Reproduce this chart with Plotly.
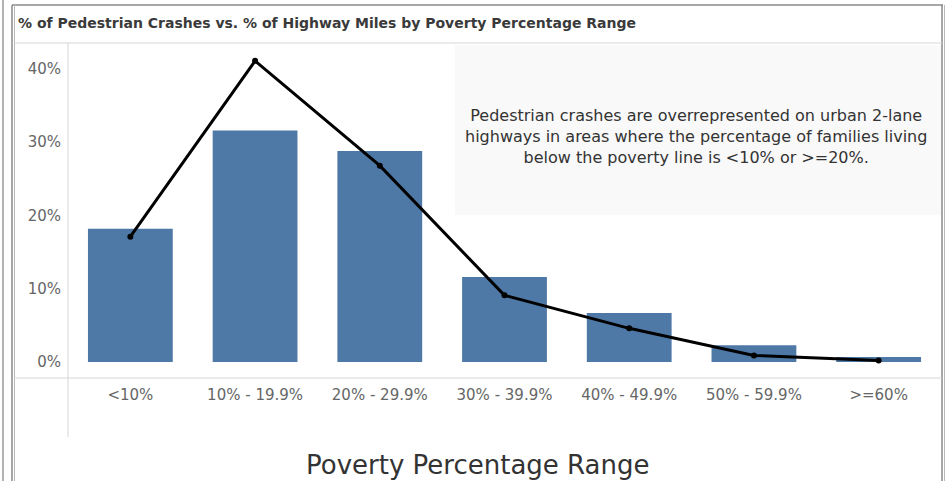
import plotly.graph_objects as go

# Poverty percentage bands
categories = ["<10%", "10% - 19.9%", "20% - 29.9%", "30% - 39.9%",
              "40% - 49.9%", "50% - 59.9%", ">=60%"]
# Share of highway miles (bars) and share of pedestrian crashes (line), in percent
highway_miles_pct = [18.2, 31.6, 28.8, 11.6, 6.7, 2.3, 0.7]
ped_crashes_pct = [17.1, 41.1, 26.8, 9.1, 4.6, 0.9, 0.2]
y_tick_vals = [0, 10, 20, 30, 40]
y_tick_text = ["0%", "10%", "20%", "30%", "40%"]

FONT = "DejaVu Sans"

fig = go.Figure()
fig.add_trace(go.Bar(
    x=categories, y=highway_miles_pct, width=0.68,
    marker=dict(color="#4e79a7", line=dict(width=0)),
    name="% of Highway Miles",
))
fig.add_trace(go.Scatter(
    x=categories, y=ped_crashes_pct, mode="lines+markers",
    line=dict(color="#000000", width=3),
    marker=dict(color="#000000", size=6),
    name="% of Pedestrian Crashes",
))

W, H = 947, 481
L, R, T, B = 68, 6, 43, 103
PW, PH = W - L - R, H - T - B


def px(x):
    # figure pixel column -> plot-area paper fraction
    return (x - L) / PW


def py(y):
    # figure pixel row -> plot-area paper fraction
    return (H - B - y) / PH


line_col = "#d6d6d6"
frame_col = "#8a8a8a"
shapes = [
    # shaded note panel
    dict(type="rect", xref="paper", yref="paper",
         x0=px(455), x1=px(941), y0=py(215), y1=py(45),
         fillcolor="#f9f9f9", line=dict(width=0), layer="below"),
]
frame = [
    # outer frame
    (12, 5, 943, 5, frame_col, 1.5), (12, 5, 12, 481, frame_col, 1.5),
    (14.5, 5, 14.5, 481, "#b8b8b8", 1), (942, 5, 942, 481, frame_col, 1.5),
    (944.5, 5, 944.5, 481, "#b8b8b8", 1), (3, 0, 3, 481, "#9a9a9a", 1.5),
    # title separator
    (14, 43, 942, 43, line_col, 1),
    # axis dividers
    (68, 43, 68, 437, line_col, 1), (14, 378, 942, 378, line_col, 1),
]
for x0, y0, x1, y1, c, w in frame:
    shapes.append(dict(type="line", xref="paper", yref="paper",
                       x0=px(x0), y0=py(y0), x1=px(x1), y1=py(y1),
                       line=dict(color=c, width=w), layer="above"))

fig.update_layout(
    width=W, height=H,
    margin=dict(l=L, r=R, t=T, b=B, pad=0),
    paper_bgcolor="#ffffff", plot_bgcolor="rgba(0,0,0,0)",
    showlegend=False,
    font=dict(family=FONT, color="#666666"),
    xaxis=dict(
        type="category", showgrid=False, zeroline=False, showline=False,
        ticks="", tickfont=dict(size=15, color="#666666"),
        ticklabelstandoff=6,
    ),
    yaxis=dict(
        range=[-16 / 7.35, (363 - 43) / 7.35],
        tickvals=y_tick_vals, ticktext=y_tick_text,
        showgrid=False, zeroline=False, showline=False, ticks="",
        tickfont=dict(size=15, color="#666666"),
        ticklabelstandoff=6,
    ),
    shapes=shapes,
    annotations=[
        dict(text="<b>% of Pedestrian Crashes vs. % of Highway Miles by Poverty Percentage Range</b>",
             xref="paper", yref="paper", x=px(16), y=py(23),
             xanchor="left", yanchor="middle", showarrow=False,
             font=dict(family=FONT, size=14, color="#3a3a3a")),
        dict(text="Pedestrian crashes are overrepresented on urban 2-lane<br>"
                  "highways in areas where the percentage of families living<br>"
                  "below the poverty line is <10% or >=20%.",
             xref="paper", yref="paper", x=px(696), y=py(136),
             xanchor="center", yanchor="middle", align="center", showarrow=False,
             font=dict(family=FONT, size=16, color="#333333")),
        dict(text="Poverty Percentage Range",
             xref="paper", yref="paper", x=px(478), y=py(465),
             xanchor="center", yanchor="middle", showarrow=False,
             font=dict(family=FONT, size=26, color="#333333")),
    ],
)

fig.write_html("out.html")
